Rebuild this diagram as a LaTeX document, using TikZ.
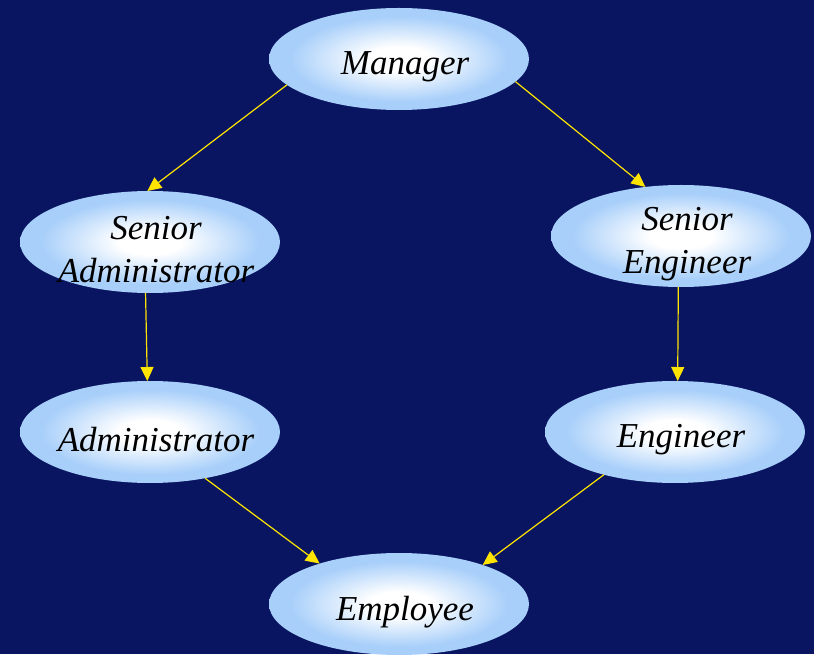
\documentclass[tikz,border=0pt]{standalone}
\usepackage{fontspec}
\setmainfont{Liberation Serif}
\usetikzlibrary{arrows.meta,shapes.geometric}

\definecolor{navy}{RGB}{9,21,96}
\definecolor{bubbleblue}{RGB}{168,207,250}
\definecolor{linkyellow}{RGB}{255,228,0}
\pgfdeclareradialshading{bubble}{\pgfpoint{0bp}{0bp}}{%
  color(0bp)=(white); color(6bp)=(white); color(21bp)=(bubbleblue);
  color(25bp)=(bubbleblue); color(50bp)=(bubbleblue)}

\tikzset{
  role/.style={ellipse, shading=bubble, minimum width=260pt,
    minimum height=102pt, inner sep=0pt, outer sep=0pt},
  rolename/.style={font=\fontsize{35}{43}\selectfont\itshape,
    align=center, xshift=6pt, yshift=-8pt},
  link/.style={draw=linkyellow, line width=1.2pt,
    -{Triangle[length=14pt,width=13pt]}}
}

\begin{document}
\begin{tikzpicture}[x=1pt,y=1pt]
  \fill[navy] (0,0) rectangle (814,654);
  \useasboundingbox (0,0) rectangle (814,654);

  \node[role] (man) at (399,595) {};
  \node[role] (sadm) at (150,412) {};
  \node[role] (seng) at (681,418) {};
  \node[role] (adm) at (150,222) {};
  \node[role] (eng) at (675,222) {};
  \node[role] (emp) at (399,50) {};

  \node[rolename] (man-t) at (man) {Manager};
  \node[rolename] (sadm-t) at (sadm) {Senior\\Administrator};
  \node[rolename] (seng-t) at (seng) {Senior\\Engineer};
  \node[rolename] (adm-t) at (adm) {Administrator};
  \node[rolename] (eng-t) at (eng) {Engineer};
  \node[rolename] (emp-t) at (emp) {Employee};

  \draw [link] (man.193.5) -- (sadm.93);
  \draw [link] (man.349) -- (seng.126.5);
  \draw [link] (sadm.265) -- (adm.93);
  \draw [link] (seng.267) -- (eng.87);
  \draw [link] (adm.320) -- (emp.153);
  \draw [link] (eng.211.7) -- (emp.25);
\end{tikzpicture}
\end{document}
